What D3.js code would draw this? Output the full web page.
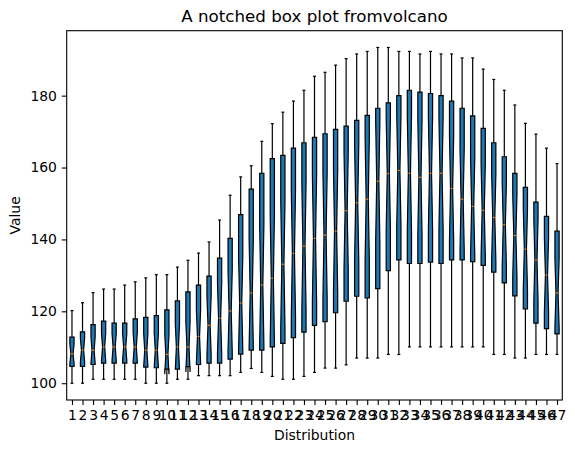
<!DOCTYPE html>
<html>
<head>
<meta charset="utf-8">
<script src="https://cdn.jsdelivr.net/npm/d3@7"></script>
<style>
	body { margin: 0; background: #fff; }
	text { font-family: "DejaVu Sans", sans-serif; fill: #000; }
</style>
</head>
<body>
<div class="container"></div>
<script>
// five-number summaries, one entry per distribution
let lows  = [100, 100, 101.1, 101.1, 101.1, 101.1, 101.1, 100, 100, 100, 101.1, 101.1, 102.1, 102.1, 102.1, 102.1,
	103, 104.1, 103, 101.9, 101.1, 101.1, 101.9, 103, 104.2, 104.2, 105.1, 107, 107, 107, 108, 108,
	110.1, 110.1, 110.1, 110.1, 110.1, 110.1, 110.1, 110.1, 108, 108, 107, 107, 108, 108, 108]
let q1s   = [104.7, 104.7, 105.2, 105.6, 105.6, 105.6, 105.6, 104.5, 104.3, 103.9, 103.9, 104.6, 105.2, 105.6, 105.6, 106.7,
	108.1, 109.2, 109.2, 110.1, 111.1, 112.7, 114.2, 116.1, 117.1, 119.6, 122.8, 124.2, 123.7, 126.3, 131.3, 134.3,
	133.3, 133.3, 133.7, 133.3, 134.3, 134.3, 133.8, 132.8, 130.9, 127.9, 124.3, 120.7, 116.7, 115.2, 113.7]
let meds  = [108.2, 109.2, 109.2, 110.1, 110.1, 110.1, 110.1, 109.2, 109.2, 108, 110.1, 110.1, 113, 116.1, 118.1, 120.1,
	122.3, 125.1, 127.3, 129.2, 133.1, 136.1, 138.1, 140.3, 141.2, 142.3, 148, 150.2, 151.2, 156.2, 158.3, 159.2,
	158.4, 157.3, 158.4, 158.4, 154.2, 151.2, 149.2, 148.1, 146.1, 144.1, 141.1, 137.3, 134.3, 130.1, 125.1]
let q3s   = [112.8, 114.3, 116.3, 117.3, 116.7, 116.7, 117.9, 118.3, 118.8, 120.4, 122.9, 125.4, 127.3, 129.8, 134.8, 140.3,
	146.9, 154, 158.4, 162.5, 163.4, 165.4, 166.9, 168.4, 169.4, 170.6, 171.5, 173.1, 174.5, 176.5, 178, 180,
	181.5, 181, 180.6, 180, 178.5, 176.5, 174.4, 170.9, 166.9, 163, 158.4, 154.5, 150.4, 146.4, 142.3]
let highs = [120.2, 122.4, 125.2, 126.2, 126.2, 127.3, 128.2, 129.3, 130.2, 130.2, 132.3, 134.2, 136.2, 139.3, 145.4, 152.3,
	157.4, 160.5, 167.3, 172.2, 175.4, 178.5, 181.5, 185.4, 186.5, 188.5, 190.3, 191.6, 192.3, 193.4, 193.4, 192.3,
	192.3, 191.6, 192.3, 191.6, 191.6, 190.5, 190.5, 187.4, 184.5, 181.5, 177.4, 172.3, 169.3, 165.4, 161.1]
let yTicks = [100, 120, 140, 160, 180]
let sampleSize = 22

let categories = d3.range(1, lows.length + 1)

let boxes = categories.map((c, i) => {
	let notch = 1.57 * (q3s[i] - q1s[i]) / Math.sqrt(sampleSize)
	return { pos: c, low: lows[i], q1: q1s[i], med: meds[i], q3: q3s[i], high: highs[i],
		nlo: meds[i] - notch, nhi: meds[i] + notch }
})

const W = 575, H = 453
const axLeft = 66.7, axRight = 562.3, axTop = 30.7, axBottom = 400

let svg = d3.select('.container')
	.append('svg')
	.attr('width', W)
	.attr('height', H)

let lo = d3.min(lows), hi = d3.max(highs)
let pad = (hi - lo) * 0.05
let y = d3.scaleLinear().domain([lo - pad, hi + pad]).range([axBottom, axTop])
let x = d3.scaleLinear().domain([0.5, categories.length + 0.5]).range([axLeft, axRight])

let px = 1.2
let boxHalf = 0.2, innerHalf = 0.1, capHalf = 0.14

// whiskers and caps
let g = svg.append('g')
boxes.forEach(b => {
	g.append('line').attr('x1', x(b.pos)).attr('x2', x(b.pos)).attr('y1', y(b.q1)).attr('y2', y(b.low))
	g.append('line').attr('x1', x(b.pos)).attr('x2', x(b.pos)).attr('y1', y(b.q3)).attr('y2', y(b.high))
	g.append('line').attr('x1', x(b.pos - capHalf)).attr('x2', x(b.pos + capHalf)).attr('y1', y(b.low)).attr('y2', y(b.low))
	g.append('line').attr('x1', x(b.pos - capHalf)).attr('x2', x(b.pos + capHalf)).attr('y1', y(b.high)).attr('y2', y(b.high))
})
g.selectAll('line').attr('stroke', '#000').attr('stroke-width', px)

// notched boxes
let line = d3.line().x(d => x(d[0])).y(d => y(d[1]))
svg.append('g').selectAll('path')
	.data(boxes)
	.join('path')
	.attr('d', b => {
		let l = b.pos - boxHalf, r = b.pos + boxHalf
		let il = b.pos - innerHalf, ir = b.pos + innerHalf
		return line([[l, b.q1], [r, b.q1], [r, b.nlo], [ir, b.med], [r, b.nhi], [r, b.q3],
			[l, b.q3], [l, b.nhi], [il, b.med], [l, b.nlo]]) + 'Z'
	})
	.attr('fill', '#1f77b4')
	.attr('stroke', '#000')
	.attr('stroke-width', px)
	.attr('stroke-linejoin', 'miter')

// medians
svg.append('g').selectAll('line')
	.data(boxes)
	.join('line')
	.attr('x1', b => x(b.pos - innerHalf))
	.attr('x2', b => x(b.pos + innerHalf))
	.attr('y1', b => y(b.med))
	.attr('y2', b => y(b.med))
	.attr('stroke', '#ff7f0e')
	.attr('stroke-width', px)

// axes
svg.append('g')
	.attr('transform', 'translate(0,' + axBottom + ')')
	.call(d3.axisBottom(x).tickValues(categories).tickFormat(d3.format('d')).tickSize(4.9).tickPadding(4.9))
svg.append('g')
	.attr('transform', 'translate(' + axLeft + ',0)')
	.call(d3.axisLeft(y).tickValues(yTicks).tickSize(4.9).tickPadding(4.9))

svg.selectAll('.domain').remove()
svg.selectAll('.tick line').attr('stroke', '#000').attr('stroke-width', 1.1)
svg.selectAll('.tick text').attr('font-size', 13.9).attr('font-family', '"DejaVu Sans", sans-serif').attr('fill', '#000')

// frame
svg.append('rect')
	.attr('x', axLeft).attr('y', axTop)
	.attr('width', axRight - axLeft).attr('height', axBottom - axTop)
	.attr('fill', 'none').attr('stroke', '#000').attr('stroke-width', 1.1)

svg.append('text')
	.attr('x', (axLeft + axRight) / 2).attr('y', 22.4)
	.attr('text-anchor', 'middle')
	.attr('font-size', 16.7)
	.text('A notched box plot fromvolcano')

svg.append('text')
	.attr('x', (axLeft + axRight) / 2).attr('y', 440)
	.attr('text-anchor', 'middle')
	.attr('font-size', 13.9)
	.text('Distribution')

svg.append('text')
	.attr('transform', 'translate(20,' + (axTop + axBottom) / 2 + ') rotate(-90)')
	.attr('text-anchor', 'middle')
	.attr('font-size', 13.9)
	.text('Value')
</script>
</body>
</html>
